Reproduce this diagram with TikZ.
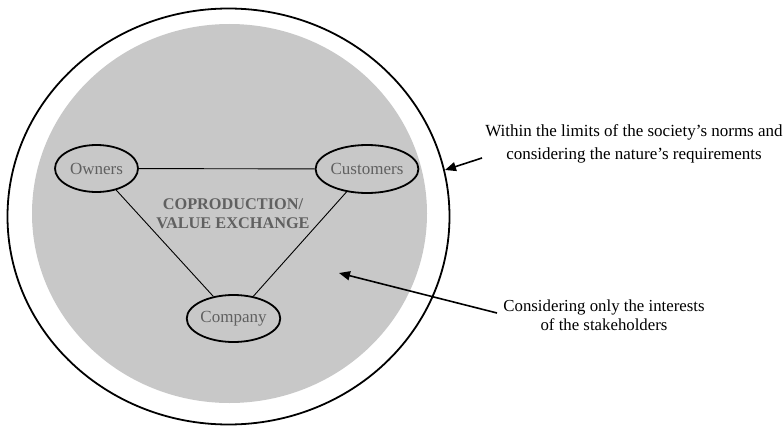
\documentclass[tikz,border=0pt]{standalone}
\usepackage{fontspec}
\setmainfont{Liberation Serif}
\usetikzlibrary{arrows.meta,shapes.geometric}
\definecolor{zonegray}{HTML}{C8C8C8}
\definecolor{labelgray}{HTML}{606060}
\begin{document}
\begin{tikzpicture}[x=1pt,y=-1pt,
  actor/.style={draw=black,line width=1.8pt,ellipse,minimum width=83pt,minimum height=47pt,
    inner sep=0pt,font=\fontsize{17}{18}\selectfont,text=labelgray},
  link/.style={line width=0.9pt},
  pointer/.style={line width=1.6pt,-{Triangle[length=11pt,width=9pt]}},
  note/.style={align=center,font=\fontsize{17}{22.6}\selectfont}]
\useasboundingbox (0,0) rectangle (784,428);
% society/nature boundary and stakeholder zone
\node[draw=black,line width=1.8pt,ellipse,minimum width=442pt,minimum height=416pt,inner sep=0pt] (outer) at (228.5,216.5) {};
\node[fill=zonegray,ellipse,minimum width=395pt,minimum height=379pt,inner sep=0pt] (zone) at (229.5,213.5) {};
% stakeholders
\node[actor] (owners) at (96.5,168.5) {Owners};
\node[actor,minimum width=90pt,minimum height=48pt] (customers) at (367,169) {Customers};
\node[actor] (company) at (233.5,318.5) {Company};
\draw[link] (owners) -- (customers);
\draw[link] (owners) -- (company);
\draw[link] (customers) -- (company);
\node[align=center,font=\bfseries\fontsize{16.3}{19}\selectfont,text=labelgray] (core) at (233,214) {COPRODUCTION/\\VALUE EXCHANGE};
% annotations
\node[note] (societynote) at (634,144) {Within the limits of the society’s norms and\\considering the nature’s requirements};
\coordinate (outertip) at (445,170);
\draw[pointer] (482,158) -- (outertip);
\node[note,font=\fontsize{16.8}{18.5}\selectfont] (zonenote) at (604,315) {Considering only the interests\\of the stakeholders};
\coordinate (zonetip) at (339,273);
\draw[pointer] (497,313) -- (zonetip);
\end{tikzpicture}
\end{document}
